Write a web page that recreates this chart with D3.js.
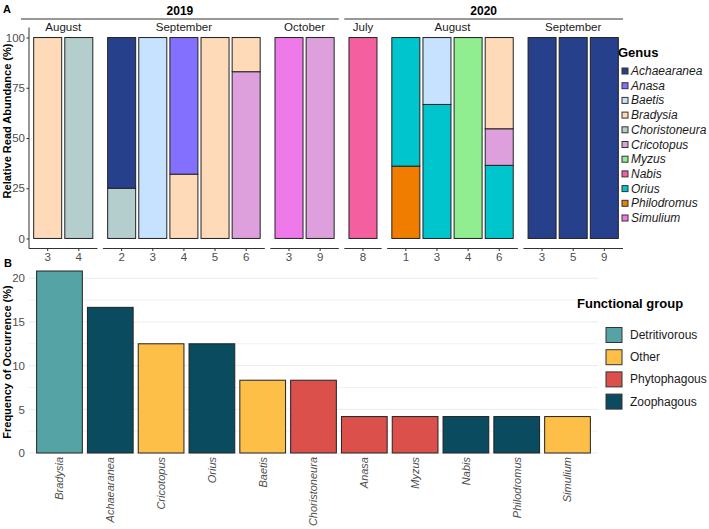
<!DOCTYPE html>
<html lang="en">
<head>
<meta charset="UTF-8">
<title>Relative read abundance and frequency of occurrence</title>
<script src="https://d3js.org/d3.v7.min.js"></script>
<style>
  body { margin: 0; background: #fff; }
  text { font-family: "Liberation Sans", Arial, sans-serif; }
</style>
</head>
<body>
<script>
// ---- panel A data ----
const genera = ["Achaearanea", "Anasa", "Baetis", "Bradysia", "Choristoneura", "Cricotopus",
                "Myzus", "Nabis", "Orius", "Philodromus", "Simulium"];
const genusColors = ["#26408B", "#8470FF", "#C6E2FF", "#FFDAB9", "#B4CDCD", "#DDA0DD",
                     "#90EE90", "#F4609F", "#00C5CD", "#F07D00", "#EE7AE9"];

const sampleYear  = ["2019","2019","2019","2019","2019","2019","2019","2019","2019",
                     "2020","2020","2020","2020","2020","2020","2020","2020"];
const sampleMonth = ["August","August","September","September","September","September","September","October","October",
                     "July","August","August","August","August","September","September","September"];
const sampleLabel = ["3","4","2","3","4","5","6","3","9","8","1","3","4","6","3","5","9"];
// relative read abundance (%) per sample
const abundance = [
  {Bradysia: 100},
  {Choristoneura: 100},
  {Achaearanea: 75, Choristoneura: 25},
  {Baetis: 100},
  {Anasa: 68, Bradysia: 32},
  {Bradysia: 100},
  {Bradysia: 17, Cricotopus: 83},
  {Simulium: 100},
  {Cricotopus: 100},
  {Nabis: 100},
  {Orius: 64, Philodromus: 36},
  {Baetis: 33.3, Orius: 66.7},
  {Myzus: 100},
  {Bradysia: 45.4, Cricotopus: 18.2, Orius: 36.4},
  {Achaearanea: 100},
  {Achaearanea: 100},
  {Achaearanea: 100}
];
const yTicksA = [0, 25, 50, 75, 100];

// ---- panel B data ----
const fgGenus = ["Bradysia", "Achaearanea", "Cricotopus", "Orius", "Baetis", "Choristoneura",
                 "Anasa", "Myzus", "Nabis", "Philodromus", "Simulium"];
const fgFreq = [20.83, 16.67, 12.5, 12.5, 8.33, 8.33, 4.17, 4.17, 4.17, 4.17, 4.17];
const fgGroup = ["Detritivorous", "Zoophagous", "Other", "Zoophagous", "Other", "Phytophagous",
                 "Phytophagous", "Phytophagous", "Zoophagous", "Zoophagous", "Other"];
const groups = ["Detritivorous", "Other", "Phytophagous", "Zoophagous"];
const groupColors = ["#56A3A6", "#FDBF48", "#DB504A", "#0A4B5F"];
const yTicksB = [0, 5, 10, 15, 20];

const W = 709, H = 529;
const svg = d3.select("body").append("svg").attr("width", W).attr("height", H);

const genusColor = d3.scaleOrdinal().domain(genera).range(genusColors);
const groupColor = d3.scaleOrdinal().domain(groups).range(groupColors);
const grey = "#4d4d4d";
const ff = "Liberation Sans, Arial, sans-serif";

// ================= PANEL A =================
const aLeft = 29, aRight = 623, facetGap = 5.5;
const yA = d3.scaleLinear().domain([-5, 105]).range([248.5, 27.5]);

// group consecutive samples into year/month facets
const facets = [];
sampleLabel.forEach((lab, i) => {
  const last = facets[facets.length - 1];
  if (last && last.year === sampleYear[i] && last.month === sampleMonth[i]) last.idx.push(i);
  else facets.push({year: sampleYear[i], month: sampleMonth[i], idx: [i]});
});
const totalUnits = d3.sum(facets, f => f.idx.length + 0.2);
const unit = (aRight - aLeft - facetGap * (facets.length - 1)) / totalUnits;
let cx = aLeft;
facets.forEach(f => {
  f.x0 = cx;
  f.x1 = cx + (f.idx.length + 0.2) * unit;
  cx = f.x1 + facetGap;
});

svg.append("text").attr("x", 3).attr("y", 13).attr("font-weight", "bold").attr("font-size", 11).text("A");

// year strips
["2019", "2020"].forEach(yr => {
  const fs = facets.filter(f => f.year === yr);
  const x0 = yr === "2019" ? 21 : fs[0].x0, x1 = fs[fs.length - 1].x1;
  svg.append("line").attr("x1", x0).attr("x2", x1).attr("y1", 19).attr("y2", 19)
    .attr("stroke", "#333").attr("stroke-width", 1);
  svg.append("text").attr("x", (x0 + x1) / 2).attr("y", 15).attr("text-anchor", "middle")
    .attr("font-weight", "bold").attr("font-size", 12).text(yr);
});

// y axis
const yAxisA = svg.append("g").attr("transform", `translate(${aLeft},0)`)
  .call(d3.axisLeft(yA).tickValues(yTicksA).tickSize(2.5).tickPadding(1.5));
yAxisA.select(".domain").attr("d", `M0,${yA.range()[1]}V${yA.range()[0]}`).attr("stroke", "#333");
yAxisA.selectAll(".tick line").attr("stroke", "#333");
yAxisA.selectAll(".tick text").attr("fill", grey).attr("font-size", 11.5).attr("font-family", ff);

svg.append("text")
  .attr("transform", "translate(11,121) rotate(-90)")
  .attr("text-anchor", "middle").attr("font-weight", "bold").attr("font-size", 11)
  .text("Relative Read Abundance (%)");

facets.forEach(f => {
  const xb = d3.scaleBand().domain(f.idx).range([f.x0, f.x1]).paddingInner(0.1).paddingOuter(0.15);
  const g = svg.append("g");

  g.append("text").attr("x", (f.x0 + f.x1) / 2).attr("y", 31).attr("text-anchor", "middle")
    .attr("font-size", 11.5).attr("fill", "#1a1a1a").text(f.month);

  f.idx.forEach(i => {
    // ggplot stacks later factor levels at the bottom
    let acc = 0;
    genera.slice().reverse().forEach(gn => {
      const v = abundance[i][gn];
      if (!v) return;
      g.append("rect")
        .attr("x", xb(i)).attr("width", xb.bandwidth())
        .attr("y", yA(acc + v)).attr("height", yA(acc) - yA(acc + v))
        .attr("fill", genusColor(gn)).attr("stroke", "#222").attr("stroke-width", 1);
      acc += v;
    });
  });

  const ax = g.append("g").attr("transform", `translate(0,${yA(-5)})`)
    .call(d3.axisBottom(xb).tickSize(2.5).tickPadding(2).tickFormat(i => sampleLabel[i]));
  ax.select(".domain").attr("d", `M${f.x0},0H${f.x1}`).attr("stroke", "#333");
  ax.selectAll(".tick line").attr("stroke", "#333");
  ax.selectAll(".tick text").attr("fill", grey).attr("font-size", 11.5).attr("font-family", ff);
});

// genus legend
const legA = svg.append("g").attr("transform", "translate(618,0)");
legA.append("text").attr("x", 0).attr("y", 57).attr("font-weight", "bold").attr("font-size", 13).text("Genus");
const yLegA = d3.scalePoint().domain(genera).range([71, 218]);
genera.forEach(gn => {
  legA.append("rect").attr("x", 4).attr("y", yLegA(gn) - 3).attr("width", 6).attr("height", 6)
    .attr("fill", genusColor(gn)).attr("stroke", "#333").attr("stroke-width", 1);
  legA.append("text").attr("x", 13).attr("y", yLegA(gn) + 4).attr("font-size", 12)
    .attr("font-style", "italic").attr("fill", "#1a1a1a").text(gn);
});

// ================= PANEL B =================
const bLeft = 29, bRight = 598;
const xB = d3.scaleBand().domain(fgGenus).range([bLeft, bRight]).paddingInner(0.1).paddingOuter(0.15);
const yB = d3.scaleLinear().domain([0, 20.83]).range([453, 271]);

svg.append("text").attr("x", 4).attr("y", 267).attr("font-weight", "bold").attr("font-size", 11).text("B");

// grid: major and minor
const gridVals = d3.range(0, 21, 2.5);
svg.append("g").selectAll("line").data(gridVals).join("line")
  .attr("x1", bLeft).attr("x2", bRight)
  .attr("y1", d => yB(d)).attr("y2", d => yB(d))
  .attr("stroke", "#ebebeb").attr("stroke-width", d => d % 5 === 0 ? 1 : 0.7);

svg.append("g").selectAll("rect").data(fgGenus).join("rect")
  .attr("x", d => xB(d)).attr("width", xB.bandwidth())
  .attr("y", (d, i) => yB(fgFreq[i])).attr("height", (d, i) => yB(0) - yB(fgFreq[i]))
  .attr("fill", (d, i) => groupColor(fgGroup[i])).attr("stroke", "#222").attr("stroke-width", 1);

const yAxisB = svg.append("g").attr("transform", `translate(${bLeft},0)`)
  .call(d3.axisLeft(yB).tickValues(yTicksB).tickSize(0).tickPadding(4));
yAxisB.select(".domain").remove();
yAxisB.selectAll(".tick text").attr("fill", grey).attr("font-size", 11.5).attr("font-family", ff);

const xAxisB = svg.append("g").attr("transform", `translate(0,${yB(0)})`)
  .call(d3.axisBottom(xB).tickSize(0));
xAxisB.select(".domain").remove();
xAxisB.selectAll(".tick text")
  .attr("transform", "rotate(-90)").attr("text-anchor", "end")
  .attr("x", -4).attr("y", 0).attr("dy", "0.35em")
  .attr("fill", grey).attr("font-size", 11).attr("font-style", "italic").attr("font-family", ff);

svg.append("text")
  .attr("transform", `translate(11,${(yB(0) + yB(20.83)) / 2}) rotate(-90)`)
  .attr("text-anchor", "middle").attr("font-weight", "bold").attr("font-size", 11)
  .text("Frequency of Occurrence (%)");

// functional group legend
const legB = svg.append("g");
legB.append("text").attr("x", 577).attr("y", 308).attr("font-weight", "bold").attr("font-size", 13)
  .text("Functional group");
groups.forEach((gr, i) => {
  const yc = 335 + i * 22.2;
  legB.append("rect").attr("x", 606).attr("y", yc - 7.5).attr("width", 16).attr("height", 15)
    .attr("fill", groupColor(gr)).attr("stroke", "#333").attr("stroke-width", 1);
  legB.append("text").attr("x", 630).attr("y", yc + 4).attr("font-size", 12)
    .attr("fill", "#1a1a1a").text(gr);
});
</script>
</body>
</html>
